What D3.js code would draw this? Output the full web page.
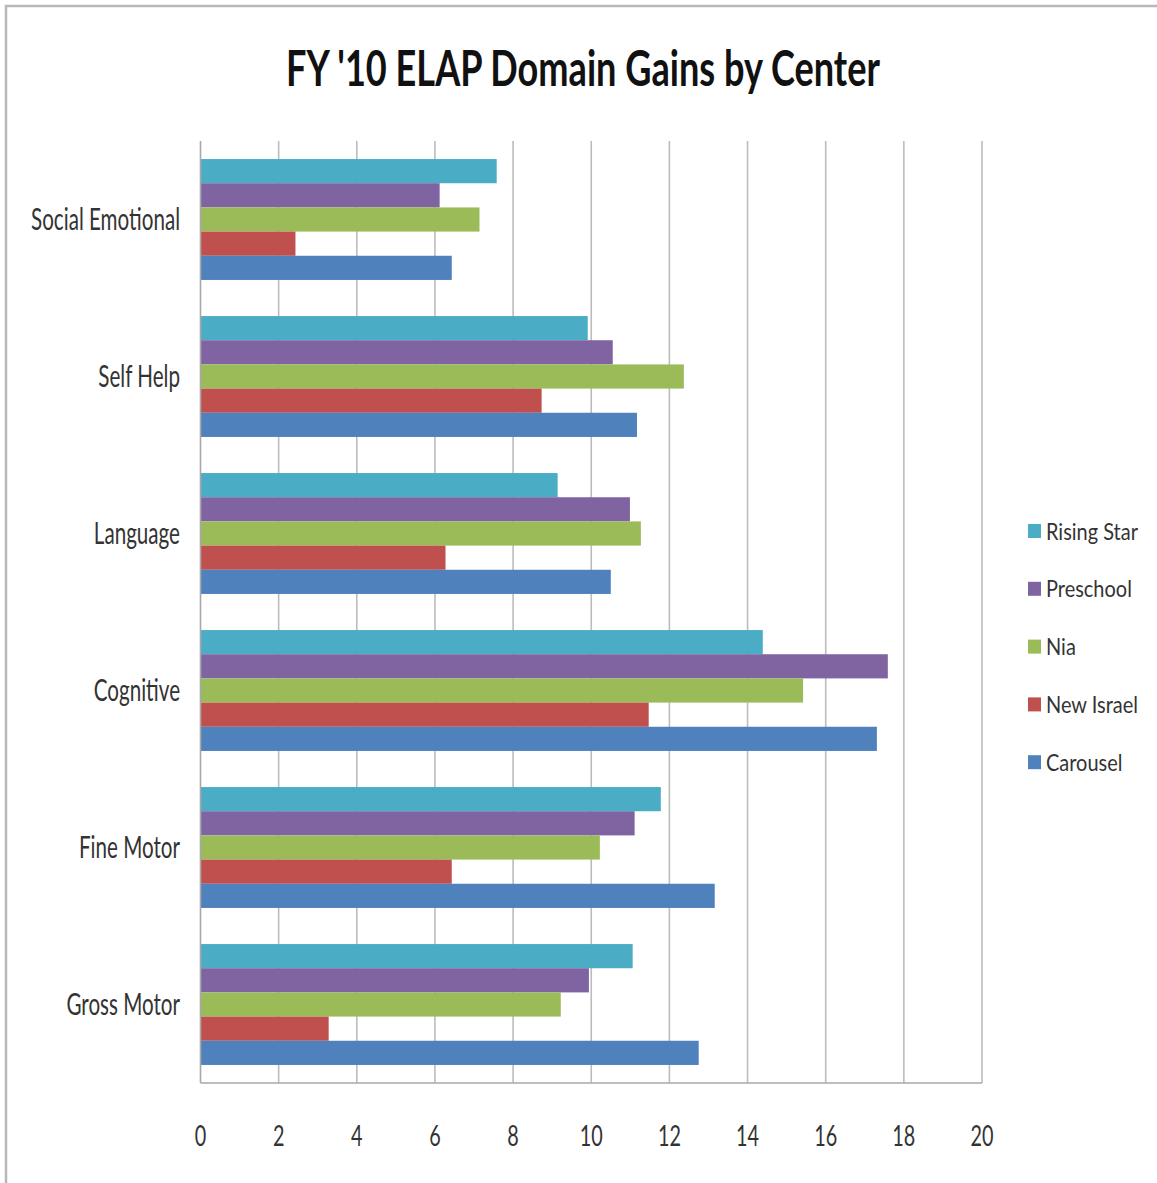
<!DOCTYPE html>
<html><head><meta charset="utf-8">
<script src="https://cdn.jsdelivr.net/npm/d3@7"></script>
<style>body{margin:0;background:#fff}svg{display:block}</style>
</head><body>
<script>
const categories = ["Social Emotional","Self Help","Language","Cognitive","Fine Motor","Gross Motor"];
const seriesNames = ["Rising Star","Preschool","Nia","New Israel","Carousel"];
const seriesColors = ["#4BACC6","#8064A2","#9BBB59","#C0504D","#4F81BD"];
const risingStar = [7.58, 9.91, 9.14, 14.39, 11.78, 11.06];
const preschool  = [6.12, 10.55, 10.99, 17.59, 11.11, 9.94];
const nia        = [7.14, 12.37, 11.27, 15.42, 10.22, 9.22];
const newIsrael  = [2.43, 8.73, 6.27, 11.47, 6.43, 3.28];
const carousel   = [6.43, 11.17, 10.50, 17.31, 13.16, 12.75];
const xTicks = [0,2,4,6,8,10,12,14,16,18,20];
const title = "FY '10 ELAP Domain Gains by Center";

const seriesValues = [risingStar, preschool, nia, newIsrael, carousel];
const W = 1157, H = 1183;
const svg = d3.select("body").append("svg").attr("width", W).attr("height", H);
const FONT = "Lato, 'Open Sans', sans-serif";

svg.append("rect").attr("x",6).attr("y",6).attr("width",1300).attr("height",1300)
  .attr("fill","none").attr("stroke","#b8b8b8").attr("stroke-width",2.5);

const m = {left:200.5, right:982, top:141, bottom:1083};
const x = d3.scaleLinear().domain([0,20]).range([m.left, m.right]);
const y0 = d3.scaleBand().domain(categories).range([m.top, m.bottom]).paddingInner(0.23).paddingOuter(0.115);
const y1 = d3.scaleBand().domain(seriesNames).range([0, y0.bandwidth()]);

// gridlines
svg.append("g").selectAll("line").data(xTicks.slice(1)).join("line")
  .attr("x1", d=>x(d)).attr("x2", d=>x(d)).attr("y1", m.top).attr("y2", m.bottom)
  .attr("stroke","#bcbcbc").attr("stroke-width",1.6);

// bars
const groups = svg.append("g").selectAll("g").data(categories).join("g")
  .attr("transform", c=>`translate(0,${y0(c)})`);
groups.selectAll("rect").data((c,ci)=>seriesNames.map((s,si)=>({s, si, v: seriesValues[si][ci]}))).join("rect")
  .attr("x", x(0)).attr("y", d=>y1(d.s)).attr("height", y1.bandwidth())
  .attr("width", d=>x(d.v)-x(0)).attr("fill", d=>seriesColors[d.si]);

// axes lines
svg.append("line").attr("x1",m.left).attr("x2",m.left).attr("y1",m.top).attr("y2",m.bottom)
  .attr("stroke","#a8a8a8").attr("stroke-width",1.6);
svg.append("line").attr("x1",m.left).attr("x2",m.right).attr("y1",m.bottom).attr("y2",m.bottom)
  .attr("stroke","#a8a8a8").attr("stroke-width",1.6);

// helper: horizontally compressed text
function squeeze(sel, sx){
  sel.each(function(){
    const t = d3.select(this);
    const tx = +t.attr("data-x"), ty = +t.attr("data-y");
    t.attr("transform", `translate(${tx},${ty}) scale(${sx},1)`);
  });
}
function measure(str, size, weight){
  const t = svg.append("text").attr("font-family",FONT).attr("font-size",size).attr("font-weight",weight||400).text(str);
  const w = t.node().getComputedTextLength(); t.remove(); return w;
}

// title
const titleSize = 50;
const titleSx = 594 / measure(title, titleSize, 700);
svg.append("text").attr("data-x", 583).attr("data-y", 86)
  .attr("text-anchor","middle").attr("font-family",FONT).attr("font-weight",700)
  .attr("font-size",titleSize).attr("fill","#111").text(title).call(squeeze, titleSx);

// category labels
const catSize = 30;
const catSx = 149 / measure("Social Emotional", catSize);
svg.append("g").selectAll("text").data(categories).join("text")
  .attr("data-x", 180).attr("data-y", c=>y0(c)+y0.bandwidth()/2+10)
  .attr("text-anchor","end").attr("font-family",FONT).attr("font-size",catSize).attr("fill","#333")
  .text(c=>c).call(squeeze, catSx);

// x tick labels
const tickSize = 29;
const tickSx = 23 / measure("10", tickSize);
svg.append("g").selectAll("text").data(xTicks).join("text")
  .attr("data-x", d=>x(d)).attr("data-y", 1146)
  .attr("text-anchor","middle").attr("font-family",FONT).attr("font-size",tickSize).attr("fill","#333")
  .text(d=>d).call(squeeze, tickSx);

// legend
const legSize = 24;
const legSx = 92 / measure("Rising Star", legSize);
const leg = svg.append("g").selectAll("g").data(seriesNames).join("g")
  .attr("transform",(d,i)=>`translate(1028,${531 + i*57.8})`);
leg.append("rect").attr("x",0).attr("y",-7).attr("width",13).attr("height",14)
  .attr("fill",(d,i)=>seriesColors[i]);
leg.append("text").attr("data-x",18).attr("data-y",8.5)
  .attr("font-family",FONT).attr("font-size",legSize).attr("fill","#333")
  .text(d=>d).call(squeeze, legSx);
</script>
</body></html>
